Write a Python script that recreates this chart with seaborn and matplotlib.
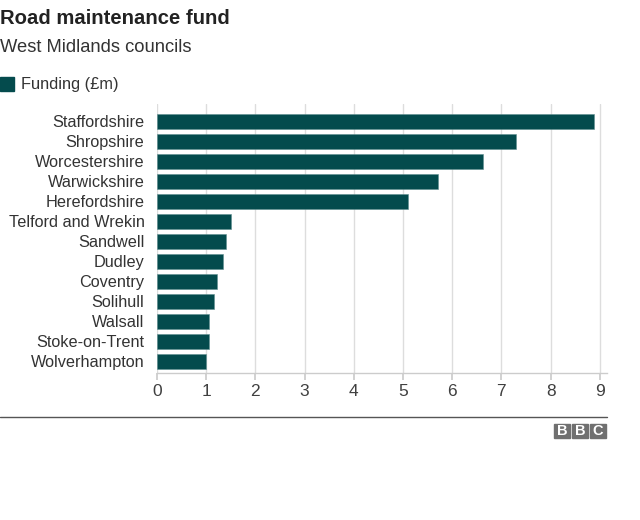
import pandas as pd
import matplotlib.pyplot as plt
import matplotlib.patches as mpatches
import seaborn as sns

# Road maintenance fund values
councils = ['Staffordshire', 'Shropshire', 'Worcestershire', 'Warwickshire',
            'Herefordshire', 'Telford and Wrekin', 'Sandwell', 'Dudley',
            'Coventry', 'Solihull', 'Walsall', 'Stoke-on-Trent', 'Wolverhampton']
funding = [8.89, 7.30, 6.63, 5.72, 5.10, 1.51, 1.41, 1.35, 1.22, 1.16, 1.06, 1.06, 0.99]
x_ticks = [0, 1, 2, 3, 4, 5, 6, 7, 8, 9]

data = pd.DataFrame({'Council': councils, 'Funding': funding})

sns.set_theme(style='white')
plt.rcParams['font.family'] = ['Liberation Sans', 'DejaVu Sans']

bar_color = '#044b4d'
text_color = '#333333'

fig = plt.figure(figsize=(6.4, 5.2), dpi=100)
ax = fig.add_axes([0.2453, 0.2827, 0.7027, 0.5173])

sns.barplot(data=data, x='Funding', y='Council', orient='h', color=bar_color,
            width=0.75, saturation=1, edgecolor='#5f8f90', linewidth=0.4, ax=ax)

ax.set_xlim(0, 9.14)
ax.set_ylim(12.575, -0.875)
ax.set_xticks(x_ticks)
ax.set_xticklabels([str(t) for t in x_ticks])
ax.xaxis.grid(True, color='#dddddd', linewidth=1)
ax.set_axisbelow(True)
ax.set_xlabel('')
ax.set_ylabel('')

for side in ['top', 'right', 'left']:
    ax.spines[side].set_visible(False)
ax.spines['bottom'].set_color('#cccccc')
ax.spines['bottom'].set_linewidth(1)

ax.tick_params(axis='x', length=5, color='#cccccc', labelsize=12.5,
               labelcolor='#404040', pad=3, direction='out', bottom=True)
ax.tick_params(axis='y', length=0, labelsize=11.7, labelcolor=text_color, pad=9)

# Titles
fig.text(0.0, 0.965, 'Road maintenance fund', fontsize=14.6, fontweight='bold',
         color='#222222', ha='left', va='center')
fig.text(0.0, 0.909, 'West Midlands councils', fontsize=13.2, color='#333333',
         ha='left', va='center')

# Legend
fig.patches.append(mpatches.Rectangle((0.0, 1 - 91 / 520), 14 / 640, 14 / 520,
                                      transform=fig.transFigure, color=bar_color))
fig.text(21 / 640, 1 - 84 / 520, 'Funding (£m)', fontsize=11.8, color='#333333',
         ha='left', va='center')

# Footer line
fig.add_artist(plt.Line2D([0, 607 / 640], [1 - 417 / 520, 1 - 417 / 520],
                          transform=fig.transFigure, color='#555555', linewidth=1))

# BBC logo
for i, letter in enumerate('BBC'):
    x0 = (554 + i * 18) / 640
    fig.patches.append(mpatches.Rectangle((x0, 1 - 438 / 520), 16 / 640, 14 / 520,
                                          transform=fig.transFigure, color='#707070'))
    fig.text(x0 + 8 / 640, 1 - 431 / 520, letter, fontsize=10.5, fontweight='bold',
             color='white', ha='center', va='center')

fig.savefig('out.png', dpi=100)
